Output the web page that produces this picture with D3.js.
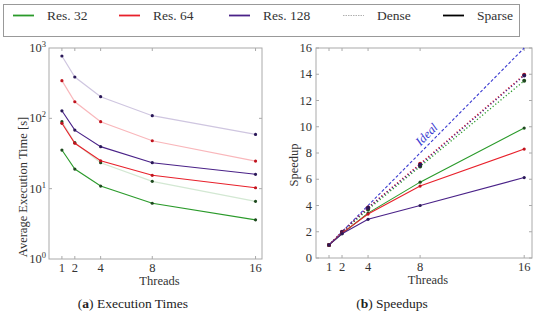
<!DOCTYPE html>
<html>
<head>
<meta charset="utf-8">
<script src="https://cdn.jsdelivr.net/npm/d3@7"></script>
<style>
body { margin: 0; background: #fff; }
svg { display: block; }
</style>
</head>
<body>
<svg id="chart" width="550" height="322" font-family="'Liberation Serif', 'DejaVu Serif', 'Times New Roman', serif"></svg>
<script>
"use strict";

var threads = [1, 2, 4, 8, 16];
var resNames = ["Res. 32", "Res. 64", "Res. 128"];
var resColors = ["#2a9a2a", "#e8212b", "#4a2288"];
var denseColors = ["#d3e8d3", "#f9b7bb", "#cfc6e0"];
var markColors = ["#1e4a1e", "#c0141e", "#2a1858"];

// execution times [s]
var timeSparse32 = [35.4, 19.0, 10.9, 6.2, 3.6];
var timeSparse64 = [85, 44.2, 24.9, 15.5, 10.3];
var timeSparse128 = [128, 68, 39.6, 23.4, 16.0];
var timeDense32 = [89.6, 45, 23.4, 12.7, 6.6];
var timeDense64 = [343, 172, 89.6, 48, 24.7];
var timeDense128 = [769, 387, 203, 109, 59];

// speedups
var speedSparse32 = [1, 1.85, 3.42, 5.78, 9.9];
var speedSparse64 = [1, 1.9, 3.35, 5.48, 8.3];
var speedSparse128 = [1, 1.85, 2.95, 4.0, 6.13];
var speedDense32 = [1, 1.95, 3.7, 6.97, 13.5];
var speedDense64 = [1, 2.0, 3.85, 7.18, 13.97];
var speedDense128 = [1, 1.98, 3.82, 7.1, 13.9];
var ideal = [1, 16];

var legendNames = resNames.concat(["Dense", "Sparse"]);

var svg = d3.select("#chart");
var txt = "#333";

// legend
var lg = svg.append("g");
lg.append("rect").attr("x", 3.5).attr("y", 4.5).attr("width", 516).attr("height", 32)
  .attr("fill", "#fff").attr("stroke", "#999");
var legX = [13, 119, 229, 343, 443];
legendNames.forEach(function(n, i) {
	var col = i < 3 ? resColors[i] : (i == 3 ? "#b0b0b0" : "#000");
	lg.append("line").attr("x1", legX[i]).attr("x2", legX[i] + 21).attr("y1", 15.5).attr("y2", 15.5)
	  .attr("stroke", col).attr("stroke-width", i == 3 ? 1 : 1.8)
	  .attr("stroke-dasharray", i == 3 ? "1.5,1" : null);
	lg.append("text").attr("x", legX[i] + 34).attr("y", 20).attr("font-size", 13.5).attr("fill", txt).text(n);
});

function frame(g, x, y) {
	var x0 = x.range()[0], x1 = x.range()[1], y0 = y.range()[0], y1 = y.range()[1];
	g.append("rect").attr("x", x0).attr("y", y1).attr("width", x1 - x0).attr("height", y0 - y1)
	 .attr("fill", "none").attr("stroke", "#aaa").attr("stroke-width", 1);
	threads.forEach(function(t) {
		g.append("line").attr("x1", x(t)).attr("x2", x(t)).attr("y1", y0).attr("y2", y0 - 3).attr("stroke", "#aaa");
		g.append("line").attr("x1", x(t)).attr("x2", x(t)).attr("y1", y1).attr("y2", y1 + 3).attr("stroke", "#aaa");
		g.append("text").attr("x", x(t)).attr("y", y0 + 13).attr("text-anchor", "middle")
		 .attr("font-size", 12.5).attr("fill", txt).text(t);
	});
	g.append("text").attr("x", (x0 + x1) / 2 + 4).attr("y", y0 + 26).attr("text-anchor", "middle")
	 .attr("font-size", 12.5).attr("fill", txt).text("Threads");
}

function series(g, x, y, vals, color, opts) {
	var line = d3.line().x(function(d, i) { return x(threads[i]); }).y(function(d) { return y(d); });
	g.append("path").datum(vals).attr("d", line).attr("fill", "none")
	 .attr("stroke", color).attr("stroke-width", opts.w || 1.1)
	 .attr("stroke-dasharray", opts.dash || null);
	g.selectAll(null).data(vals).enter().append("circle")
	 .attr("cx", function(d, i) { return x(threads[i]); })
	 .attr("cy", function(d) { return y(d); })
	 .attr("r", opts.r || 1.6).attr("fill", opts.mark);
}

// (a) execution times
var xa = d3.scaleLinear().domain([0, 16.5]).range([49, 262]);
var ya = d3.scaleLog().domain([1, 1000]).range([259, 48]);
var ga = svg.append("g");
frame(ga, xa, ya);
[1, 10, 100, 1000].forEach(function(v, i) {
	var t = ga.append("text").attr("x", 46).attr("y", ya(v) + 4).attr("text-anchor", "end")
	  .attr("font-size", 12.5).attr("fill", txt);
	t.append("tspan").text("10");
	t.append("tspan").attr("dy", -5).attr("font-size", 8.5).text(i);
	if (i > 0 && i < 3) {
		ga.append("line").attr("x1", 49).attr("x2", 52).attr("y1", ya(v)).attr("y2", ya(v)).attr("stroke", "#aaa");
		ga.append("line").attr("x1", 262).attr("x2", 259).attr("y1", ya(v)).attr("y2", ya(v)).attr("stroke", "#aaa");
	}
});
ga.append("text").attr("transform", "translate(27,187) rotate(-90)").attr("text-anchor", "middle")
  .attr("font-size", 12.5).attr("fill", txt).text("Average Execution Time [s]");

var timeDense = [timeDense32, timeDense64, timeDense128];
var timeSparse = [timeSparse32, timeSparse64, timeSparse128];
timeDense.forEach(function(v, i) { series(ga, xa, ya, v, denseColors[i], {mark: markColors[i], w: 1.2}); });
timeSparse.forEach(function(v, i) { series(ga, xa, ya, v, resColors[i], {mark: markColors[i]}); });

// (b) speedups
var xb = d3.scaleLinear().domain([0, 16.6]).range([316, 532]);
var yb = d3.scaleLinear().domain([0, 16]).range([258, 48]);
var gb = svg.append("g");
frame(gb, xb, yb);
d3.range(0, 17, 2).forEach(function(v) {
	gb.append("text").attr("x", 312).attr("y", yb(v) + 4).attr("text-anchor", "end")
	  .attr("font-size", 12.5).attr("fill", txt).text(v);
	gb.append("line").attr("x1", 316).attr("x2", 319).attr("y1", yb(v)).attr("y2", yb(v)).attr("stroke", "#aaa");
	gb.append("line").attr("x1", 532).attr("x2", 529).attr("y1", yb(v)).attr("y2", yb(v)).attr("stroke", "#aaa");
});
gb.append("text").attr("transform", "translate(298,165) rotate(-90)").attr("text-anchor", "middle")
  .attr("font-size", 12.5).attr("fill", txt).text("Speedup");

gb.append("line").attr("x1", xb(ideal[0])).attr("y1", yb(ideal[0])).attr("x2", xb(ideal[1])).attr("y2", yb(ideal[1]))
  .attr("stroke", "#3a3ad0").attr("stroke-width", 1.1).attr("stroke-dasharray", "3,2");
var ang = Math.atan2(yb(16) - yb(1), xb(16) - xb(1)) * 180 / Math.PI;
gb.append("text").attr("transform", "translate(" + (xb(8.1) - 1) + "," + (yb(8.5)) + ") rotate(" + ang + ")")
  .attr("font-size", 12.5).attr("font-style", "italic").attr("fill", "#3a3ad0").text("Ideal");

var speedDense = [speedDense32, speedDense64, speedDense128];
var speedSparse = [speedSparse32, speedSparse64, speedSparse128];
speedDense.forEach(function(v, i) { series(gb, xb, yb, v, resColors[i], {mark: markColors[i], dash: "1.2,2.2", w: 1.3, r: 2}); });
speedSparse.forEach(function(v, i) { series(gb, xb, yb, v, resColors[i], {mark: markColors[i]}); });

// captions
var c1 = svg.append("text").attr("x", 133).attr("y", 308).attr("text-anchor", "middle")
  .attr("font-size", 13.5).attr("fill", "#222");
c1.append("tspan").text("(");
c1.append("tspan").attr("font-weight", "bold").text("a");
c1.append("tspan").text(") Execution Times");
var c2 = svg.append("text").attr("x", 392).attr("y", 308).attr("text-anchor", "middle")
  .attr("font-size", 13.5).attr("fill", "#222");
c2.append("tspan").text("(");
c2.append("tspan").attr("font-weight", "bold").text("b");
c2.append("tspan").text(") Speedups");
</script>
</body>
</html>
